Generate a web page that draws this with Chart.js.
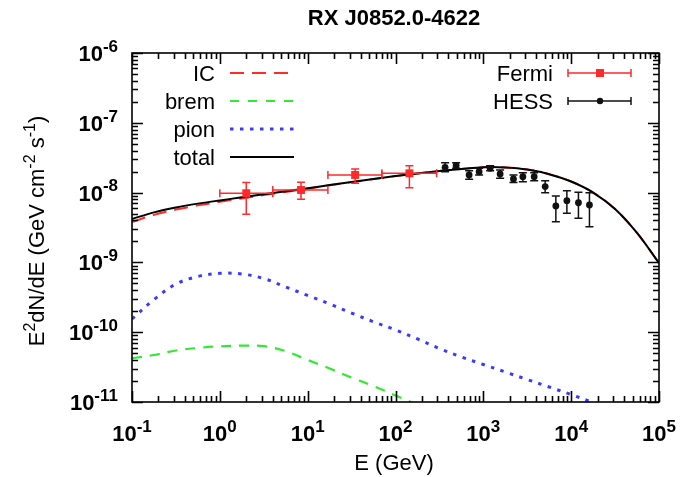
<!DOCTYPE html>
<html lang="en">
  <head>
    <meta charset="UTF-8" />
    <title>RX J0852.0-4622</title>
    <script src="https://cdn.jsdelivr.net/npm/chart.js@4"></script>
    <style>
      * {
        margin: 0;
        padding: 0;
      }
      body {
        background: #ffffff;
      }
    </style>
  </head>
  <body>
    <canvas id="sed" width="687" height="477"></canvas>
    <script>
      // model components, energy in GeV -> E^2 dN/dE in GeV cm^-2 s^-1
      const modelE = [
        0.1, 0.178, 0.316, 0.562, 1, 1.78, 3.16, 5.62, 10, 17.8, 31.6, 56.2,
        100, 178, 316, 562, 1000, 1780, 3160, 5620, 1e4, 1.78e4, 3.16e4,
        5.62e4, 1e5,
      ];
      const totalFlux = [
        4.19e-9, 5.21e-9, 6.12e-9, 6.95e-9, 7.73e-9, 8.55e-9, 9.46e-9, 1.045e-8,
        1.153e-8, 1.282e-8, 1.422e-8, 1.57e-8, 1.726e-8, 1.884e-8, 2.037e-8,
        2.178e-8, 2.307e-8, 2.291e-8, 2.143e-8, 1.837e-8, 1.442e-8, 1.002e-8,
        5.82e-9, 2.64e-9, 9.79e-10,
      ];
      const icFlux = [
        3.79e-9, 4.8e-9, 5.71e-9, 6.56e-9, 7.38e-9, 8.24e-9, 9.2e-9, 1.023e-8,
        1.138e-8, 1.271e-8, 1.413e-8, 1.563e-8, 1.722e-8, 1.884e-8, 2.037e-8,
        2.178e-8, 2.307e-8, 2.291e-8, 2.143e-8, 1.837e-8, 1.442e-8, 1.002e-8,
        5.82e-9, 2.64e-9, 9.79e-10,
      ];
      const pionFlux = [
        1.55e-10, 2.94e-10, 4.9e-10, 6.28e-10, 6.98e-10, 6.82e-10, 5.88e-10,
        4.44e-10, 3.36e-10, 2.54e-10, 1.88e-10, 1.41e-10, 1.08e-10, 8.0e-11,
        5.84e-11, 4.41e-11, 3.45e-11, 2.69e-11, 2.1e-11, 1.64e-11, 1.28e-11,
        9.8e-12, 7.4e-12,
      ];
      const bremFlux = [
        4.23e-11, 4.71e-11, 5.47e-11, 5.94e-11, 6.28e-11, 6.41e-11, 6.3e-11,
        5.35e-11, 4.0e-11, 3.02e-11, 2.24e-11, 1.69e-11, 1.24e-11, 9.06e-12,
        6.5e-12,
      ];

      // Fermi-LAT points with energy bins
      const fermiE = [2.0, 8.4, 34.7, 144];
      const fermiELo = [1.0, 4.0, 17, 70];
      const fermiEHi = [4.0, 17, 70, 294];
      const fermiFlux = [9.8e-9, 1.09e-8, 1.79e-8, 1.89e-8];
      const fermiFluxLo = [4.9e-9, 8.0e-9, 1.36e-8, 1.17e-8];
      const fermiFluxHi = [1.39e-8, 1.41e-8, 2.18e-8, 2.43e-8];

      // H.E.S.S. points
      const hessE = [
        367, 490, 689, 895, 1195, 1553, 2203, 2818, 3791, 5058, 6693, 8935,
        12100, 16150,
      ];
      const hessFlux = [
        2.3e-8, 2.43e-8, 1.79e-8, 1.99e-8, 2.23e-8, 1.85e-8, 1.57e-8, 1.69e-8,
        1.69e-8, 1.22e-8, 6.43e-9, 7.66e-9, 7.16e-9, 6.64e-9,
      ];
      const hessFluxLo = [
        1.99e-8, 2.23e-8, 1.55e-8, 1.79e-8, 2.06e-8, 1.6e-8, 1.39e-8, 1.43e-8,
        1.48e-8, 9.97e-9, 3.83e-9, 5.05e-9, 4.29e-9, 3.25e-9,
      ];
      const hessFluxHi = [
        2.68e-8, 2.68e-8, 2.06e-8, 2.23e-8, 2.43e-8, 2.11e-8, 1.79e-8, 1.93e-8,
        1.93e-8, 1.48e-8, 8.94e-9, 1.06e-8, 1.01e-8, 9.97e-9,
      ];

      const xDecades = [-1, 0, 1, 2, 3, 4, 5];
      const yDecades = [-11, -10, -9, -8, -7, -6];

      const FONT = '"Liberation Sans", Arial, Helvetica, sans-serif';
      const RED = "#ff2a2a";
      const GREEN = "#33e833";
      const BLUE = "#3a3aff";

      function pts(xs, ys) {
        return ys.map((y, i) => ({ x: xs[i], y: y }));
      }

      // text with superscript pieces, e.g. [["10"], ["-6", true]]
      function richWidth(ctx, runs, size, supSize, weight) {
        let w = 0;
        runs.forEach(([t, sup]) => {
          ctx.font = `${weight} ${sup ? supSize : size}px ${FONT}`;
          w += ctx.measureText(t).width;
        });
        return w;
      }
      function drawRich(ctx, runs, x, y, align, size, supSize, weight) {
        const w = richWidth(ctx, runs, size, supSize, weight);
        let cx = align === "center" ? x - w / 2 : align === "right" ? x - w : x;
        ctx.textAlign = "left";
        ctx.textBaseline = "alphabetic";
        runs.forEach(([t, sup]) => {
          ctx.font = `${weight} ${sup ? supSize : size}px ${FONT}`;
          ctx.fillText(t, cx, sup ? y - size * 0.42 : y);
          cx += ctx.measureText(t).width;
        });
      }

      function errorBar(ctx, x0, y0, x1, y1, cap, vertical) {
        ctx.beginPath();
        ctx.moveTo(x0, y0);
        ctx.lineTo(x1, y1);
        if (vertical) {
          ctx.moveTo(x0 - cap, y0);
          ctx.lineTo(x0 + cap, y0);
          ctx.moveTo(x1 - cap, y1);
          ctx.lineTo(x1 + cap, y1);
        } else {
          ctx.moveTo(x0, y0 - cap);
          ctx.lineTo(x0, y0 + cap);
          ctx.moveTo(x1, y1 - cap);
          ctx.lineTo(x1, y1 + cap);
        }
        ctx.stroke();
      }

      const errorBars = {
        id: "errorBars",
        afterDatasetsDraw(chart) {
          const { ctx, scales } = chart;
          const sx = scales.x, sy = scales.y;
          ctx.save();
          ctx.lineWidth = 1.5;
          ctx.strokeStyle = RED;
          fermiE.forEach((e, i) => {
            const px = sx.getPixelForValue(e);
            const py = sy.getPixelForValue(fermiFlux[i]);
            errorBar(ctx, sx.getPixelForValue(fermiELo[i]), py,
              sx.getPixelForValue(fermiEHi[i]), py, 4, false);
            errorBar(ctx, px, sy.getPixelForValue(fermiFluxHi[i]),
              px, sy.getPixelForValue(fermiFluxLo[i]), 4, true);
          });
          ctx.strokeStyle = "#111";
          hessE.forEach((e, i) => {
            const px = sx.getPixelForValue(e);
            errorBar(ctx, px, sy.getPixelForValue(hessFluxHi[i]),
              px, sy.getPixelForValue(hessFluxLo[i]), 4, true);
          });
          ctx.restore();
        },
      };

      // gnuplot-like frame: inward ticks on all four sides, labels, key
      const frame = {
        id: "frame",
        afterDraw(chart) {
          const { ctx, chartArea: a, scales } = chart;
          const sx = scales.x, sy = scales.y;
          ctx.save();
          ctx.strokeStyle = "#000";
          ctx.fillStyle = "#000";
          ctx.lineWidth = 1.6;
          ctx.strokeRect(a.left, a.top, a.right - a.left, a.bottom - a.top);

          ctx.beginPath();
          xDecades.forEach((d) => {
            for (let m = 1; m <= 9; m++) {
              if (d === 5 && m > 1) break;
              const px = Math.round(sx.getPixelForValue(m * Math.pow(10, d))) + 0.5;
              const len = m === 1 ? 11 : 6;
              ctx.moveTo(px, a.bottom);
              ctx.lineTo(px, a.bottom - len);
              ctx.moveTo(px, a.top);
              ctx.lineTo(px, a.top + len);
            }
          });
          yDecades.forEach((d) => {
            for (let m = 1; m <= 9; m++) {
              if (d === -6 && m > 1) break;
              const py = Math.round(sy.getPixelForValue(m * Math.pow(10, d))) + 0.5;
              const len = m === 1 ? 11 : 6;
              ctx.moveTo(a.left, py);
              ctx.lineTo(a.left + len, py);
              ctx.moveTo(a.right, py);
              ctx.lineTo(a.right - len, py);
            }
          });
          ctx.stroke();

          xDecades.forEach((d) => {
            const px = sx.getPixelForValue(Math.pow(10, d));
            drawRich(ctx, [["10"], [String(d), true]], px, a.bottom + 39,
              "center", 22, 17, "bold");
          });
          yDecades.forEach((d) => {
            const py = sy.getPixelForValue(Math.pow(10, d));
            drawRich(ctx, [["10"], [String(d), true]], 118, py + 8,
              "right", 22, 17, "bold");
          });

          // titles
          ctx.font = `bold 22px ${FONT}`;
          ctx.textAlign = "center";
          ctx.fillText("RX J0852.0-4622", 394, 25);
          drawRich(ctx, [["E (GeV)"]], 394, 470, "center", 22, 16, "normal");
          ctx.save();
          ctx.translate(44, 231);
          ctx.rotate(-Math.PI / 2);
          drawRich(ctx, [["E"], ["2", true], ["dN/dE (GeV cm"], ["-2", true],
            [" s"], ["-1", true], [")"]], 0, 0, "center", 22, 16, "normal");
          ctx.restore();

          // key, left block
          const rows = [
            ["IC", RED, [14, 8], 2],
            ["brem", GREEN, [9, 9], 2.2],
            ["pion", BLUE, [3.5, 6.5], 3],
            ["total", "#000", [], 2],
          ];
          rows.forEach(([label, color, dash, w], i) => {
            const y = 73 + i * 28;
            ctx.fillStyle = "#000";
            drawRich(ctx, [[label]], 215, y + 8, "right", 22, 16, "normal");
            ctx.strokeStyle = color;
            ctx.lineWidth = w;
            ctx.setLineDash(dash);
            ctx.beginPath();
            ctx.moveTo(230, y);
            ctx.lineTo(294, y);
            ctx.stroke();
          });
          ctx.setLineDash([]);

          // key, right block
          const pointRows = [
            ["Fermi", RED, "rect"],
            ["HESS", "#111", "circle"],
          ];
          pointRows.forEach(([label, color, shape], i) => {
            const y = 73 + i * 28;
            ctx.fillStyle = "#000";
            drawRich(ctx, [[label]], 553, y + 8, "right", 22, 16, "normal");
            ctx.strokeStyle = color;
            ctx.fillStyle = color;
            ctx.lineWidth = 1.5;
            errorBar(ctx, 568, y, 631, y, 4, false);
            if (shape === "rect") ctx.fillRect(596, y - 4, 8, 8);
            else {
              ctx.beginPath();
              ctx.arc(600, y, 3.2, 0, Math.PI * 2);
              ctx.fill();
            }
          });
          ctx.restore();
        },
      };

      const curve = (data, color, dash, width) => ({
        data: data,
        showLine: true,
        borderColor: color,
        borderWidth: width,
        borderDash: dash,
        pointRadius: 0,
        tension: 0.35,
        fill: false,
      });

      new Chart(document.getElementById("sed"), {
        type: "scatter",
        data: {
          datasets: [
            {
              data: pts(fermiE, fermiFlux),
              pointStyle: "rect",
              pointRadius: 5.6,
              backgroundColor: RED,
              borderColor: RED,
              borderWidth: 0,
            },
            {
              data: pts(hessE, hessFlux),
              pointStyle: "circle",
              pointRadius: 3.4,
              backgroundColor: "#111",
              borderColor: "#111",
              borderWidth: 0,
            },
            curve(pts(modelE, totalFlux), "#000", [], 2),
            curve(pts(modelE, icFlux), RED, [14, 8], 2),
            curve(pts(modelE, pionFlux), BLUE, [3.5, 6.5], 3),
            curve(pts(modelE, bremFlux), GREEN, [10, 8], 2.2),
          ],
        },
        options: {
          responsive: false,
          animation: false,
          layout: { padding: { left: 132, right: 28, top: 53, bottom: 75 } },
          plugins: {
            legend: { display: false },
            tooltip: { enabled: false },
          },
          scales: {
            x: { type: "logarithmic", min: 0.1, max: 1e5, display: false },
            y: { type: "logarithmic", min: 1e-11, max: 1e-6, display: false },
          },
        },
        plugins: [errorBars, frame],
      });
    </script>
  </body>
</html>
